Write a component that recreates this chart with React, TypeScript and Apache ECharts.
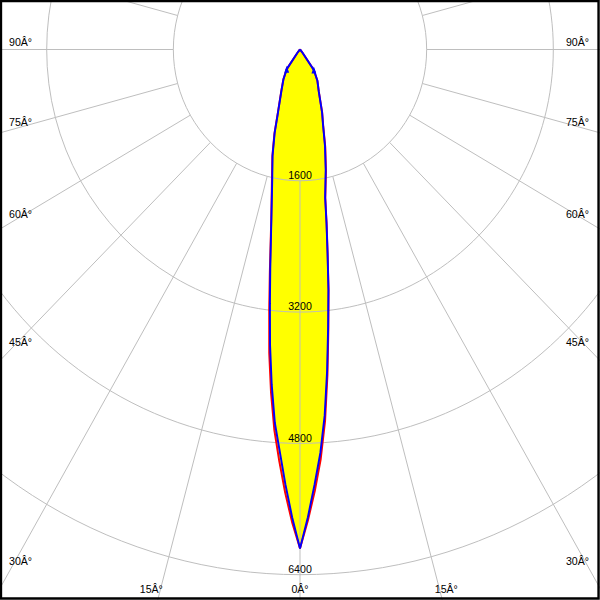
import React, { useEffect, useRef } from 'react';
import * as echarts from 'echarts';

// Gamma angles (degrees from nadir) and luminous intensities (cd) per half-plane
const GAMMA = [0, 1, 2, 3, 4, 5, 6, 7, 8, 9, 10, 12.5, 15, 17.5, 20, 25, 30, 35, 40, 45, 50, 60, 70, 80, 90];
const RED_C0 = [6080, 5740, 5380, 5000, 4540, 3980, 3430, 2960, 2510, 2150, 1840, 1515, 1235, 975, 820, 560, 440, 305, 40, 10, 0, 0, 0, 0, 0];
const RED_C180 = [6080, 5760, 5400, 5020, 4650, 4200, 3720, 3190, 2740, 2370, 2090, 1640, 1350, 1075, 815, 560, 420, 295, 40, 10, 0, 0, 0, 0, 0];
const BLUE_C90 = [6080, 5700, 5300, 4920, 4470, 3930, 3400, 2950, 2500, 2140, 1830, 1500, 1220, 970, 815, 560, 440, 306, 40, 10, 0, 0, 0, 0, 0];
const BLUE_C270 = [6080, 5700, 5300, 4900, 4560, 4100, 3620, 3120, 2700, 2350, 2080, 1620, 1340, 1065, 810, 555, 418, 292, 40, 10, 0, 0, 0, 0, 0];
const MARK_GAMMA = 35;

const RING_VALUES = [1600, 3200, 4800, 6400];
const SIDE_ANGLE_LABELS = ['90Â°', '75Â°', '60Â°', '45Â°', '30Â°'];
const BOTTOM_ANGLE_LABELS = ['15Â°', '0Â°', '15Â°'];

// layout
const W = 622;
const H = 600;
const SX = 600 / W;
const CX = 311;
const CY = 49.5;
const V_MAX = 8000;
const R_MAX = 656.5;
const R_INNER = (1600 / V_MAX) * R_MAX;
const SIDE_LABEL_Y = [41.7, 121.7, 214, 342, 560.5];
const BOTTOM_LABEL_X = [151.3 / SX, 300 / SX, 446.3 / SX];
const BOTTOM_LABEL_Y = 589;
const FONT = '11px "Liberation Sans", Arial, sans-serif';

function loop(right: number[], left: number[]) {
  const pts: number[][] = [];
  for (let i = GAMMA.length - 1; i >= 0; i--) pts.push([right[i], 360 - GAMMA[i]]);
  for (let i = 1; i < GAMMA.length; i++) pts.push([left[i], GAMMA[i]]);
  return pts;
}

function withMarks(pts: number[][]) {
  return pts.map((p) => {
    const g = p[1] > 180 ? 360 - p[1] : p[1];
    if (g === MARK_GAMMA) {
      return { value: p, symbol: 'triangle', symbolSize: [5, 7], itemStyle: { color: '#0000ff' } };
    }
    return { value: p };
  });
}

export default function App() {
  const ref = useRef<HTMLDivElement>(null);

  useEffect(() => {
    if (!ref.current) return;
    const chart = echarts.init(ref.current, undefined, { renderer: 'svg', width: W, height: H });
    const redPts = loop(RED_C0, RED_C180);
    const bluePts = loop(BLUE_C90, BLUE_C270);

    const graphics: any[] = [
      {
        type: 'rect',
        shape: { x: 1, y: 1, width: W - 2.5, height: H - 2.5 },
        style: { fill: 'none', stroke: '#000', lineWidth: 2.5 },
        z: 100,
      },
    ];
    SIDE_ANGLE_LABELS.forEach((t, i) => {
      graphics.push({
        type: 'text', x: 9 / SX, y: SIDE_LABEL_Y[i], z: 100,
        style: { text: t, font: FONT, fill: '#000', align: 'left', verticalAlign: 'middle' },
      });
      graphics.push({
        type: 'text', x: 589 / SX, y: SIDE_LABEL_Y[i], z: 100,
        style: { text: t, font: FONT, fill: '#000', align: 'right', verticalAlign: 'middle' },
      });
    });
    BOTTOM_ANGLE_LABELS.forEach((t, i) => {
      graphics.push({
        type: 'text', x: BOTTOM_LABEL_X[i], y: BOTTOM_LABEL_Y, z: 100,
        style: { text: t, font: FONT, fill: '#000', align: 'center', verticalAlign: 'middle' },
      });
    });
    RING_VALUES.forEach((v) => {
      const ry = CY + (v / V_MAX) * R_MAX;
      graphics.push({
        type: 'text', x: CX, y: ry - 5.8, z: 100,
        style: { text: String(v), font: FONT, fill: '#000', align: 'center', verticalAlign: 'middle' },
      });
    });

    const gridColor = '#bdbdbd';
    chart.setOption({
      animation: false,
      backgroundColor: '#fff',
      polar: [
        { center: [CX, CY], radius: [R_INNER, R_MAX] },
        { center: [CX, CY], radius: [0, R_MAX] },
      ],
      angleAxis: [
        {
          polarIndex: 0, type: 'value', min: 0, max: 360, interval: 15, startAngle: 270, clockwise: true,
          axisLine: { show: false }, axisTick: { show: false }, axisLabel: { show: false },
          splitLine: { show: true, lineStyle: { color: gridColor, width: 1 } }, z: 2,
        },
        {
          polarIndex: 1, type: 'value', min: 0, max: 360, interval: 15, startAngle: 270, clockwise: true,
          axisLine: { show: false }, axisTick: { show: false }, axisLabel: { show: false },
          splitLine: { show: false }, z: 2,
        },
      ],
      radiusAxis: [
        {
          polarIndex: 0, type: 'value', min: 1600, max: V_MAX, interval: 1600,
          axisLine: { show: false }, axisTick: { show: false }, axisLabel: { show: false },
          splitLine: { show: false }, z: 2,
        },
        {
          polarIndex: 1, type: 'value', min: 0, max: V_MAX, interval: 1600,
          axisLine: { show: false }, axisTick: { show: false }, axisLabel: { show: false },
          splitLine: { show: true, lineStyle: { color: gridColor, width: 1 } }, z: 2,
        },
      ],
      series: [
        {
          type: 'custom', coordinateSystem: 'polar', polarIndex: 1, silent: true, z: 1,
          data: redPts,
          renderItem: (params: any, api: any) => {
            if (params.dataIndex !== 0) return null;
            const points = redPts.map((p) => api.coord(p));
            return { type: 'polygon', shape: { points }, style: { fill: '#ffff00', stroke: 'none' } };
          },
        },
        {
          type: 'line', coordinateSystem: 'polar', polarIndex: 1, data: redPts, symbol: 'none',
          lineStyle: { color: '#ff0000', width: 2 }, z: 3, silent: true,
        },
        {
          type: 'line', coordinateSystem: 'polar', polarIndex: 1, data: withMarks(bluePts),
          symbol: 'none', showSymbol: true,
          lineStyle: { color: '#0000ff', width: 2 }, z: 4, silent: true,
        },
      ],
      graphic: graphics,
    });
    return () => chart.dispose();
  }, []);

  return (
    <div
      ref={ref}
      style={{
        position: 'fixed',
        left: 0,
        top: 0,
        width: W,
        height: H,
        transform: `scaleX(${SX})`,
        transformOrigin: '0 0',
      }}
    />
  );
}
